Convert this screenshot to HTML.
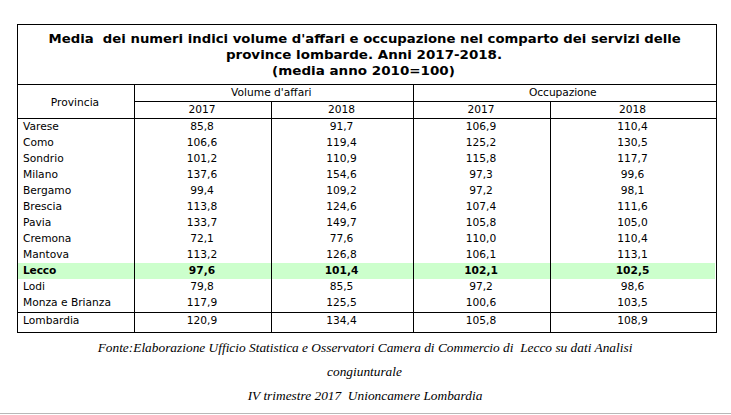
<!DOCTYPE html>
<html lang="it"><head><meta charset="utf-8"><title>Tabella</title>
<style>
html,body{margin:0;padding:0;background:#fff;}
body{width:731px;height:415px;position:relative;overflow:hidden;font-family:"DejaVu Sans","Liberation Sans",sans-serif;color:#000;}
.l{position:absolute;background:#000;}
.t{position:absolute;white-space:pre;font-size:10.67px;line-height:16px;height:16px;}
.c{text-align:center;}
.b{font-weight:bold;}
.ttl{position:absolute;left:18px;width:698px;text-align:center;font-weight:bold;font-size:12.3px;line-height:16px;height:16px;white-space:pre;transform-origin:50% 50%;}
.ft{position:absolute;left:0;width:731px;text-align:center;font-family:"Liberation Serif",serif;font-style:italic;font-size:13.33px;line-height:24px;height:24px;white-space:pre;}
.g{position:absolute;left:18px;top:263px;width:697px;height:16px;background:#ccffcc;}
.hr{position:absolute;left:0;top:413px;width:731px;height:1px;background:#b8b8b8;}
</style></head>
<body>
<div class="g"></div>
<div class="l" style="left:17px;top:24px;width:700px;height:1px"></div>
<div class="l" style="left:17px;top:84px;width:700px;height:1px"></div>
<div class="l" style="left:134px;top:101px;width:583px;height:1px"></div>
<div class="l" style="left:17px;top:118px;width:700px;height:1px"></div>
<div class="l" style="left:17px;top:312px;width:700px;height:1px"></div>
<div class="l" style="left:17px;top:332px;width:700px;height:1px"></div>
<div class="l" style="left:17px;top:24px;width:1px;height:309px"></div>
<div class="l" style="left:716px;top:24px;width:1px;height:309px"></div>
<div class="l" style="left:134px;top:84px;width:1px;height:249px"></div>
<div class="l" style="left:271px;top:101px;width:1px;height:232px"></div>
<div class="l" style="left:413px;top:84px;width:1px;height:249px"></div>
<div class="l" style="left:550px;top:101px;width:1px;height:232px"></div>
<div class="ttl" style="top:30.7px;transform:translateX(-2.3px) scaleX(1.0763)">Media&nbsp; dei numeri indici volume d'affari e occupazione nel comparto dei servizi delle</div>
<div class="ttl" style="top:46.7px;transform:translateX(-3px) scaleX(1.093)">province lombarde. Anni 2017-2018.</div>
<div class="ttl" style="top:62.7px;transform:translateX(-3.5px) scaleX(1.0965)">(media anno 2010=100)</div>
<div class="t c" style="left:17px;top:95px;width:116px">Provincia</div>
<div class="t c" style="left:132.3px;top:85.3px;width:278px">Volume d'affari</div>
<div class="t c" style="left:411.8px;top:85px;width:302px;letter-spacing:-0.1px">Occupazione</div>
<div class="t c" style="left:134px;top:102px;width:136px">2017</div>
<div class="t c" style="left:271px;top:102px;width:141px">2018</div>
<div class="t c" style="left:413px;top:102px;width:136px">2017</div>
<div class="t c" style="left:550px;top:102px;width:165px">2018</div>
<div class="t" style="left:23px;top:119px">Varese</div>
<div class="t c" style="left:134px;top:119px;width:136px">85,8</div>
<div class="t c" style="left:271px;top:119px;width:141px">91,7</div>
<div class="t c" style="left:413px;top:119px;width:136px">106,9</div>
<div class="t c" style="left:550px;top:119px;width:165px">110,4</div>
<div class="t" style="left:23px;top:135px">Como</div>
<div class="t c" style="left:134px;top:135px;width:136px">106,6</div>
<div class="t c" style="left:271px;top:135px;width:141px">119,4</div>
<div class="t c" style="left:413px;top:135px;width:136px">125,2</div>
<div class="t c" style="left:550px;top:135px;width:165px">130,5</div>
<div class="t" style="left:23px;top:151px">Sondrio</div>
<div class="t c" style="left:134px;top:151px;width:136px">101,2</div>
<div class="t c" style="left:271px;top:151px;width:141px">110,9</div>
<div class="t c" style="left:413px;top:151px;width:136px">115,8</div>
<div class="t c" style="left:550px;top:151px;width:165px">117,7</div>
<div class="t" style="left:23px;top:167px">Milano</div>
<div class="t c" style="left:134px;top:167px;width:136px">137,6</div>
<div class="t c" style="left:271px;top:167px;width:141px">154,6</div>
<div class="t c" style="left:413px;top:167px;width:136px">97,3</div>
<div class="t c" style="left:550px;top:167px;width:165px">99,6</div>
<div class="t" style="left:23px;top:183px">Bergamo</div>
<div class="t c" style="left:134px;top:183px;width:136px">99,4</div>
<div class="t c" style="left:271px;top:183px;width:141px">109,2</div>
<div class="t c" style="left:413px;top:183px;width:136px">97,2</div>
<div class="t c" style="left:550px;top:183px;width:165px">98,1</div>
<div class="t" style="left:23px;top:199px">Brescia</div>
<div class="t c" style="left:134px;top:199px;width:136px">113,8</div>
<div class="t c" style="left:271px;top:199px;width:141px">124,6</div>
<div class="t c" style="left:413px;top:199px;width:136px">107,4</div>
<div class="t c" style="left:550px;top:199px;width:165px">111,6</div>
<div class="t" style="left:23px;top:215px">Pavia</div>
<div class="t c" style="left:134px;top:215px;width:136px">133,7</div>
<div class="t c" style="left:271px;top:215px;width:141px">149,7</div>
<div class="t c" style="left:413px;top:215px;width:136px">105,8</div>
<div class="t c" style="left:550px;top:215px;width:165px">105,0</div>
<div class="t" style="left:23px;top:231px">Cremona</div>
<div class="t c" style="left:134px;top:231px;width:136px">72,1</div>
<div class="t c" style="left:271px;top:231px;width:141px">77,6</div>
<div class="t c" style="left:413px;top:231px;width:136px">110,0</div>
<div class="t c" style="left:550px;top:231px;width:165px">110,4</div>
<div class="t" style="left:23px;top:247px">Mantova</div>
<div class="t c" style="left:134px;top:247px;width:136px">113,2</div>
<div class="t c" style="left:271px;top:247px;width:141px">126,8</div>
<div class="t c" style="left:413px;top:247px;width:136px">106,1</div>
<div class="t c" style="left:550px;top:247px;width:165px">113,1</div>
<div class="t b" style="left:23px;top:263px;letter-spacing:-0.18px">Lecco</div>
<div class="t c b" style="left:134px;top:263px;width:136px">97,6</div>
<div class="t c b" style="left:271px;top:263px;width:141px">101,4</div>
<div class="t c b" style="left:413px;top:263px;width:136px">102,1</div>
<div class="t c b" style="left:550px;top:263px;width:165px">102,5</div>
<div class="t" style="left:23px;top:279px">Lodi</div>
<div class="t c" style="left:134px;top:279px;width:136px">79,8</div>
<div class="t c" style="left:271px;top:279px;width:141px">85,5</div>
<div class="t c" style="left:413px;top:279px;width:136px">97,2</div>
<div class="t c" style="left:550px;top:279px;width:165px">98,6</div>
<div class="t" style="left:23px;top:295px">Monza e Brianza</div>
<div class="t c" style="left:134px;top:295px;width:136px">117,9</div>
<div class="t c" style="left:271px;top:295px;width:141px">125,5</div>
<div class="t c" style="left:413px;top:295px;width:136px">100,6</div>
<div class="t c" style="left:550px;top:295px;width:165px">103,5</div>
<div class="t" style="left:23px;top:313px">Lombardia</div>
<div class="t c" style="left:134px;top:313px;width:136px">120,9</div>
<div class="t c" style="left:271px;top:313px;width:141px">134,4</div>
<div class="t c" style="left:413px;top:313px;width:136px">105,8</div>
<div class="t c" style="left:550px;top:313px;width:165px">108,9</div>
<div class="ft" style="top:335.5px;margin-left:-0.5px;font-size:13.36px">Fonte:Elaborazione Ufficio Statistica e Osservatori Camera di Commercio di&nbsp; Lecco su dati Analisi</div>
<div class="ft" style="top:359.5px;margin-left:-1px">congiunturale</div>
<div class="ft" style="top:383.5px;margin-left:-0.5px;font-size:13.36px">IV trimestre 2017&nbsp; Unioncamere Lombardia</div>
<div class="hr"></div>
</body></html>
